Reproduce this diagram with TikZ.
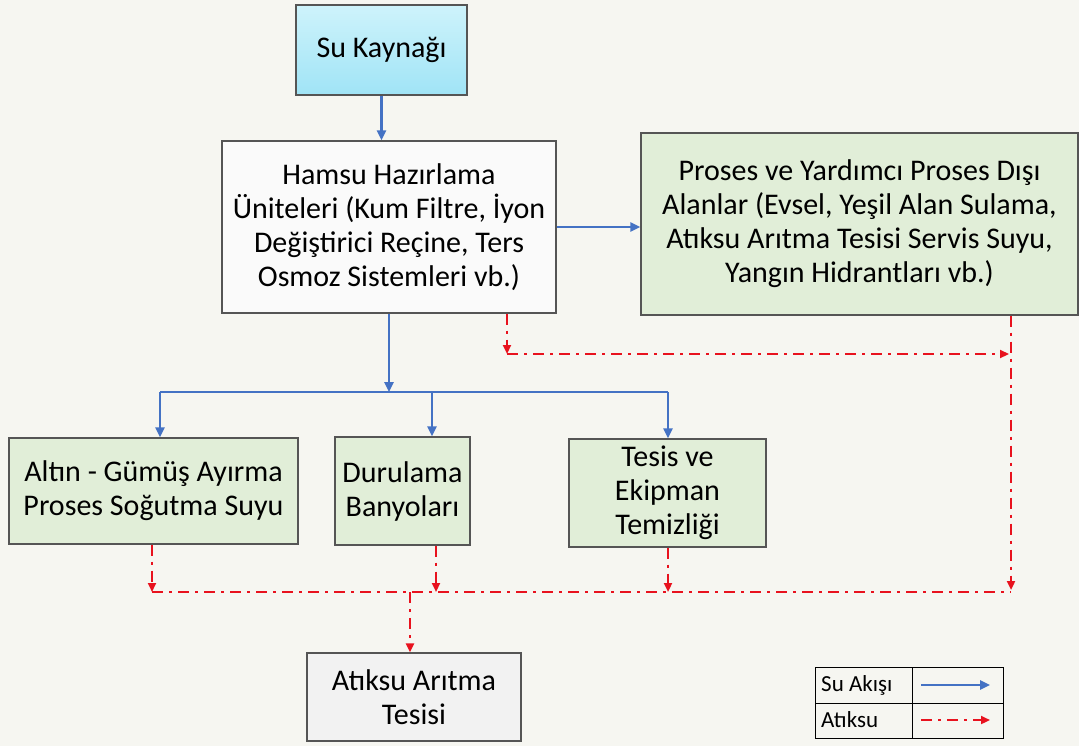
\documentclass[tikz,border=0pt]{standalone}
\usepackage{fontspec}
\setmainfont{Carlito}
\usetikzlibrary{arrows.meta,positioning}
\definecolor{bg}{RGB}{246,246,241}
\definecolor{flowblue}{RGB}{68,114,196}
\definecolor{wastered}{RGB}{232,18,30}
\definecolor{boxgreen}{RGB}{225,238,216}
\definecolor{boxgray}{RGB}{242,242,242}
\definecolor{edgegray}{RGB}{85,85,85}
\definecolor{cyantop}{RGB}{206,243,251}
\definecolor{cyanbot}{RGB}{160,228,246}
\begin{document}
\begin{tikzpicture}[x=1pt, y=-1pt,
    box/.style={draw=edgegray, line width=1.2pt, rectangle, align=center,
                inner sep=0pt, font=\fontsize{30}{34}\selectfont},
    green/.style={box, fill=boxgreen},
    water/.style={draw=flowblue, line width=2.4pt, -{Triangle[length=10pt,width=9pt]}},
    waste/.style={draw=wastered, line width=2.2pt,
                  dash pattern=on 11pt off 6pt on 3pt off 6pt,
                  -{Triangle[length=9pt,width=8pt]}},
    legtext/.style={anchor=west, inner sep=0pt, font=\fontsize{23}{26}\selectfont}
]
\fill[bg] (0,0) rectangle (1079,746);
\useasboundingbox (0,0) rectangle (1079,746);

\node (source) [box, minimum width=171pt, minimum height=90pt,
      top color=cyantop, bottom color=cyanbot] at (381.5,50) {Su Kaynağı};
\node (hamsu) [box, fill=white!60!boxgray, minimum width=334pt, minimum height=172pt]
      at (389,227) {Hamsu Hazırlama\\Üniteleri (Kum Filtre, İyon\\Değiştirici Reçine, Ters\\Osmoz Sistemleri vb.)};
\node (other) [green, minimum width=437pt, minimum height=182pt]
      at (859.5,224) {Proses ve Yardımcı Proses Dışı\\Alanlar (Evsel, Yeşil Alan Sulama,\\Atıksu Arıtma Tesisi Servis Suyu,\\Yangın Hidrantları vb.)};
\node (altin) [green, minimum width=289pt, minimum height=106pt]
      at (153.5,491) {Altın - Gümüş Ayırma\\Proses Soğutma Suyu};
\node (durulama) [green, minimum width=135pt, minimum height=108pt]
      at (402.5,491) {Durulama\\Banyoları};
\node (tesis) [green, minimum width=197pt, minimum height=108pt]
      at (667.5,493) {Tesis ve\\Ekipman\\Temizliği};
\node (treat) [box, fill=boxgray, minimum width=214pt, minimum height=88pt]
      at (414,697) {Atıksu Arıtma\\Tesisi};

% water flow
\coordinate (bus) at (389,392);
\coordinate (busleft) at (160,392);
\coordinate (busmid) at (432,392);
\coordinate (busright) at (668,392);
\draw [water] (source.south) -- (source.south |- hamsu.north);
\draw [water] (hamsu.east) -- (hamsu.east -| other.west);
\draw [water] (hamsu.south) -- (bus);
\draw [flowblue, line width=2.4pt] (busleft) -- (busright);
\draw [water] (busleft) -- (busleft |- altin.north);
\draw [water] (busmid) -- (busmid |- durulama.north);
\draw [water] (busright) -- (busright |- tesis.north);

% waste water
\coordinate (wjoin) at (507,354);
\coordinate (wright) at (1009,354);
\coordinate (wcorner) at (1011,590);
\coordinate (wleft) at (152,592);
\coordinate (wend) at (1011,592);
\coordinate (wdur) at (436,592);
\coordinate (wtes) at (668,592);
\coordinate (wtap) at (410,592);
\draw [waste] (hamsu.south -| wjoin) -- (wjoin);
\draw [waste] (wjoin) -- (wright);
\draw [waste] (other.south -| wcorner) -- (wcorner);
\draw [waste, -] (wleft) -- (wend);
\draw [waste] (altin.south -| wleft) -- (wleft);
\draw [waste] (durulama.south -| wdur) -- (wdur);
\draw [waste] (tesis.south -| wtes) -- (wtes);
\draw [waste] (wtap) -- (treat.north -| wtap);

% legend
\draw [line width=1pt] (815,667) rectangle (1003,738);
\draw [line width=1pt] (815,703) -- (1003,703);
\draw [line width=1pt] (912,667) -- (912,738);
\node (legsu) [legtext] at (821,685) {Su Akışı};
\node (legatik) [legtext] at (821,720) {Atıksu};
\coordinate (legsua) at (921,685);
\coordinate (legsub) at (990,685);
\coordinate (legatika) at (921,720);
\coordinate (legatikb) at (990,720);
\draw [water] (legsua) -- (legsub);
\draw [waste] (legatika) -- (legatikb);
\end{tikzpicture}
\end{document}
